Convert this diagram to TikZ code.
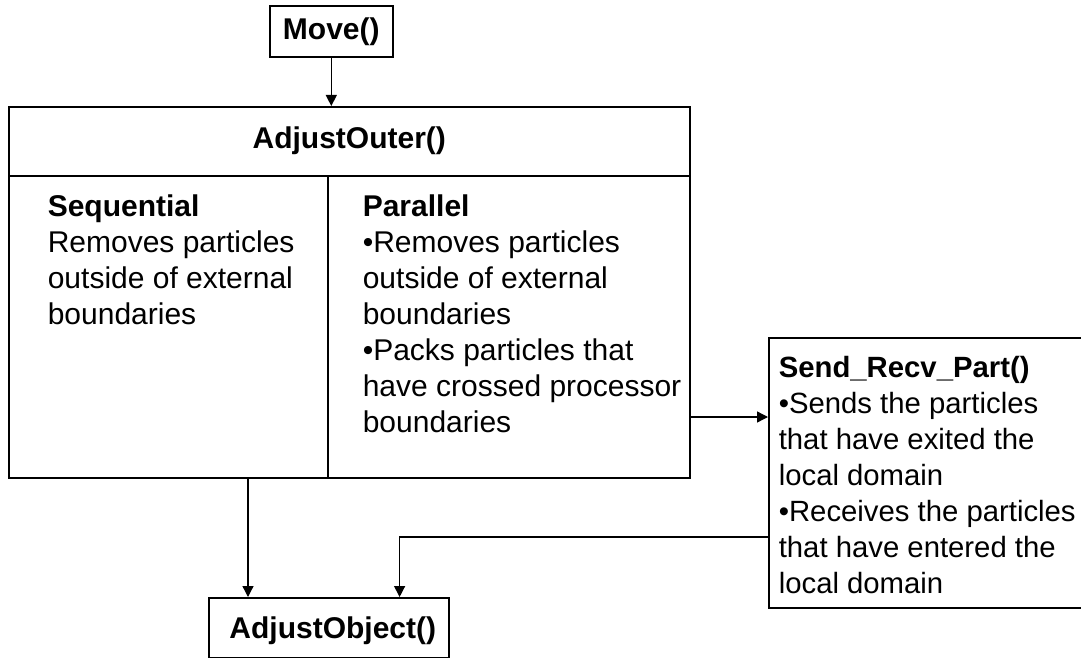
\documentclass[tikz,border=0pt]{standalone}
\usepackage{fontspec}
\setmainfont{Liberation Sans}
\usetikzlibrary{shapes,arrows.meta}

\begin{document}
\begin{tikzpicture}[x=1pt, y=-1pt, line width=1.6pt,
	box/.style={draw, inner sep=0pt, anchor=north west},
	txt/.style={align=left, inner sep=0pt, anchor=north west, font=\fontsize{30}{36}\selectfont},
	title/.style={font=\fontsize{30}{36}\selectfont\bfseries},
	flow/.style={line width=1.3pt, -{Triangle[length=11pt, width=11pt]}}]
			\useasboundingbox (0,0) rectangle (1081,658);
			\node[box, title, minimum width=123pt, minimum height=51pt] (move) at (269,5) {Move()};
			\node[box, minimum width=681pt, minimum height=371pt] (outer) at (8,106) {};
			\node[title] (outertitle) at ([yshift=-35pt]outer.north) {AdjustOuter()};
			\draw ([yshift=-70pt]outer.north west) -- ([yshift=-70pt]outer.north east);
			\draw ([xshift=320pt, yshift=-70pt]outer.north west) -- ([xshift=320pt]outer.south west);
			\node[txt] (seq) at (47,194) {\textbf{Sequential}\\Removes particles\\outside of external\\boundaries};
			\node[txt] (par) at (362,194) {\textbf{Parallel}\\•Removes particles\\outside of external\\boundaries\\•Packs particles that\\have crossed processor\\boundaries};
			\node[box, minimum width=322pt, minimum height=270pt] (sendrecv) at (768,337) {};
			\node[txt, font=\fontsize{29.3}{36}\selectfont] (sendtxt) at (778,355) {\textbf{Send\_Recv\_Part()}\\•Sends the particles\\that have exited the\\local domain\\•Receives the particles\\that have entered the\\local domain};
			\node[box, title, minimum width=240pt, minimum height=60pt, text depth=0pt, text height=22pt, xshift=0pt] (adjobj) at (208,597) {\hspace{8pt}AdjustObject()};
			\draw[flow] (move.south) -- (move.south |- outer.north);
			\draw[flow] ([xshift=40pt]adjobj.north west |- outer.south) -- ([xshift=40pt]adjobj.north west);
			\draw[flow] ([yshift=-80pt]sendrecv.north west -| outer.east) -- ([yshift=-80pt]sendrecv.north west);
			\draw[flow] ([yshift=-200pt]sendrecv.north west) -| ([xshift=-50pt]adjobj.north east);
		\end{tikzpicture}
\end{document}
